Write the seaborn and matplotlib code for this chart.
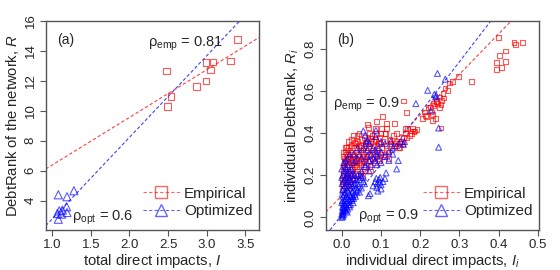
import numpy as np
import pandas as pd
import matplotlib
matplotlib.use("Agg")
import matplotlib.pyplot as plt
from matplotlib.lines import Line2D
import seaborn as sns

# ---------------- data ----------------
# panel (a): total direct impacts vs DebtRank of the network
emp_a_x = [2.48, 2.49, 2.54, 2.87, 2.99, 2.99, 3.05, 3.08, 3.31, 3.40]
emp_a_y = [12.64, 10.29, 10.96, 11.63, 13.22, 11.97, 12.71, 13.26, 13.33, 14.76]
opt_a_x = [1.078, 1.19, 1.28, 1.185, 1.065, 1.09, 1.13, 1.078, 1.19, 1.12]
opt_a_y = [4.40, 4.27, 4.67, 3.60, 3.15, 3.33, 3.38, 2.77, 3.22, 3.11]
# fitted lines: (intercept, slope)
fit_a_emp = (3.22, 3.17)
fit_a_opt = (-2.63, 5.43)

# panel (b): individual direct impacts vs individual DebtRank
emp_b = [
    (0.399, 0.854), (0.439, 0.830), (0.443, 0.822), (0.460, 0.830), (0.403, 0.768),
    (0.417, 0.790), (0.394, 0.735), (0.417, 0.740), (0.395, 0.702), (0.408, 0.713),
    (0.298, 0.668), (0.331, 0.644), (0.282, 0.643), (0.275, 0.638), (0.263, 0.614),
    (0.271, 0.603), (0.258, 0.587), (0.250, 0.571), (0.260, 0.567), (0.254, 0.556),
    (0.242, 0.551), (0.253, 0.535), (0.233, 0.540), (0.226, 0.524), (0.213, 0.483),
    (0.231, 0.490), (0.253, 0.424), (0.157, 0.552), (0.166, 0.498), (0.103, 0.479),
    (0.089, 0.457), (0.134, 0.444), (0.069, 0.425), (0.192, 0.419), (0.184, 0.408),
    (0.178, 0.400), (0.161, 0.421), (0.165, 0.381), (0.140, 0.397), (0.114, 0.421),
    (0.110, 0.397), (0.113, 0.444), (0.102, 0.421), (0.089, 0.397), (0.123, 0.365),
    (0.136, 0.349), (0.148, 0.333), (0.097, 0.349), (0.076, 0.373), (0.059, 0.349),
    (0.047, 0.333), (0.032, 0.357),
    (0.002, 0.16), (0.004, 0.20), (0.003, 0.24), (0.006, 0.28), (0.008, 0.31),
    (0.005, 0.22), (0.010, 0.18), (0.007, 0.26), (0.012, 0.30), (0.002, 0.13),
    (0.015, 0.32), (0.018, 0.28), (0.020, 0.24), (0.022, 0.20), (0.025, 0.34),
    (0.028, 0.30), (0.015, 0.22), (0.020, 0.17), (0.030, 0.26), (0.026, 0.22),
    (0.012, 0.25), (0.017, 0.36), (0.023, 0.31), (0.029, 0.19), (0.014, 0.19),
    (0.032, 0.33), (0.035, 0.28), (0.038, 0.24), (0.040, 0.36), (0.042, 0.30),
    (0.045, 0.26), (0.048, 0.21), (0.050, 0.34), (0.052, 0.29), (0.055, 0.24),
    (0.058, 0.38), (0.060, 0.31), (0.034, 0.21), (0.044, 0.40), (0.056, 0.27),
    (0.047, 0.32), (0.037, 0.31), (0.053, 0.20),
    (0.062, 0.26), (0.065, 0.35), (0.068, 0.30), (0.070, 0.40), (0.072, 0.24),
    (0.075, 0.32), (0.078, 0.28), (0.080, 0.36), (0.083, 0.26), (0.085, 0.42),
    (0.088, 0.31), (0.090, 0.34), (0.093, 0.28), (0.096, 0.38), (0.098, 0.30),
    (0.066, 0.44), (0.074, 0.22),
    (0.102, 0.33), (0.105, 0.36), (0.108, 0.29), (0.112, 0.40), (0.115, 0.34),
    (0.118, 0.31), (0.122, 0.37), (0.125, 0.35), (0.128, 0.32), (0.132, 0.39),
    (0.135, 0.34), (0.140, 0.36), (0.145, 0.33), (0.148, 0.35), (0.120, 0.28),
    (0.110, 0.30),
    (0.152, 0.36), (0.158, 0.38), (0.162, 0.40), (0.168, 0.42), (0.175, 0.41),
    (0.180, 0.42), (0.186, 0.41), (0.172, 0.39), (0.155, 0.35),
    (0.205, 0.47), (0.210, 0.50), (0.215, 0.48), (0.220, 0.52), (0.228, 0.50),
    (0.235, 0.53), (0.240, 0.55), (0.245, 0.54), (0.250, 0.52), (0.238, 0.47),
    (0.232, 0.46),
    (0.001, 0.18), (0.003, 0.29), (0.004, 0.15), (0.006, 0.19), (0.008, 0.23),
    (0.009, 0.27), (0.011, 0.21), (0.013, 0.33), (0.016, 0.26), (0.019, 0.21),
    (0.021, 0.29), (0.024, 0.25), (0.027, 0.18), (0.031, 0.29), (0.033, 0.24),
    (0.036, 0.35), (0.039, 0.27), (0.041, 0.22), (0.043, 0.34), (0.046, 0.29),
    (0.049, 0.25), (0.051, 0.37), (0.054, 0.32), (0.057, 0.22), (0.059, 0.28),
    (0.061, 0.34), (0.063, 0.29), (0.067, 0.38), (0.069, 0.33), (0.071, 0.27),
    (0.073, 0.36), (0.077, 0.39), (0.079, 0.31), (0.082, 0.34), (0.084, 0.29),
    (0.087, 0.37), (0.091, 0.31), (0.094, 0.35), (0.097, 0.27), (0.099, 0.40),
    (0.018, 0.33), (0.009, 0.33), (0.006, 0.24), (0.026, 0.27), (0.011, 0.14),
    (0.016, 0.15), (0.022, 0.16), (0.028, 0.23), (0.035, 0.25), (0.042, 0.27),
    (0.024, 0.37), (0.039, 0.39), (0.030, 0.39), (0.015, 0.29), (0.005, 0.31),
]
opt_b = [
    (0.219, 0.603), (0.244, 0.683), (0.264, 0.656), (0.236, 0.584), (0.239, 0.571),
    (0.241, 0.578), (0.189, 0.540), (0.227, 0.508), (0.247, 0.424), (0.247, 0.333),
    (0.144, 0.270), (0.140, 0.230), (0.113, 0.211), (0.087, 0.413), (0.086, 0.384),
    (0.066, 0.365), (0.157, 0.346), (0.068, 0.103), (0.089, 0.143), (0.097, 0.167),
    (0.080, 0.150), (0.085, 0.170), (0.090, 0.160), (0.095, 0.180), (0.100, 0.155),
    (0.105, 0.170), (0.110, 0.185), (0.100, 0.135), (0.092, 0.125), (0.098, 0.190),
    (0.088, 0.185), (0.072, 0.113),
    (0.055, 0.41), (0.060, 0.39), (0.070, 0.35), (0.080, 0.33), (0.090, 0.30),
    (0.100, 0.31), (0.120, 0.31), (0.130, 0.33), (0.140, 0.34), (0.150, 0.36),
    (0.160, 0.36),
    (0.040, 0.20), (0.050, 0.22), (0.060, 0.25), (0.070, 0.27), (0.045, 0.30),
    (0.055, 0.33), (0.065, 0.29), (0.075, 0.30), (0.030, 0.26), (0.020, 0.30),
    (0.085, 0.32), (0.095, 0.33), (0.100, 0.36), (0.110, 0.35), (0.125, 0.36),
    (0.062, 0.36), (0.060, 0.24), (0.070, 0.22), (0.075, 0.25), (0.085, 0.27),
    (0.090, 0.25), (0.100, 0.26), (0.110, 0.29), (0.120, 0.27), (0.130, 0.30),
    (0.000, 0.000), (0.001, 0.010), (0.002, 0.020), (0.003, 0.005), (0.004, 0.030),
    (0.005, 0.015), (0.006, 0.040), (0.002, 0.050), (0.008, 0.060), (0.010, 0.030),
    (0.012, 0.050), (0.004, 0.070), (0.007, 0.080), (0.010, 0.090), (0.013, 0.070),
    (0.015, 0.040), (0.003, 0.100), (0.006, 0.110), (0.009, 0.120), (0.012, 0.100),
    (0.016, 0.090), (0.018, 0.060), (0.020, 0.080), (0.002, 0.130), (0.005, 0.140),
    (0.008, 0.150), (0.011, 0.160), (0.014, 0.130), (0.017, 0.120), (0.020, 0.110),
    (0.023, 0.100), (0.025, 0.080), (0.004, 0.170), (0.007, 0.180), (0.010, 0.190),
    (0.013, 0.200), (0.016, 0.170), (0.019, 0.150), (0.022, 0.140), (0.026, 0.120),
    (0.028, 0.100), (0.030, 0.090), (0.003, 0.200), (0.006, 0.220), (0.009, 0.240),
    (0.012, 0.230), (0.015, 0.210), (0.018, 0.190), (0.021, 0.180), (0.024, 0.170),
    (0.027, 0.150), (0.030, 0.130), (0.033, 0.110), (0.035, 0.100), (0.020, 0.220),
    (0.025, 0.200), (0.030, 0.180), (0.032, 0.160), (0.036, 0.140), (0.038, 0.120),
    (0.001, 0.030), (0.000, 0.015), (0.002, 0.080), (0.005, 0.060), (0.001, 0.110),
    (0.009, 0.035), (0.014, 0.025), (0.003, 0.045), (0.040, 0.160), (0.045, 0.180),
    (0.050, 0.190), (0.043, 0.150), (0.055, 0.170),
    (0.035, 0.160), (0.040, 0.130), (0.045, 0.120), (0.050, 0.140), (0.048, 0.200),
    (0.055, 0.190), (0.058, 0.160), (0.025, 0.230), (0.028, 0.210), (0.033, 0.200),
    (0.038, 0.180), (0.015, 0.250), (0.010, 0.270), (0.005, 0.260), (0.000, 0.230),
    (0.000, 0.190), (0.000, 0.070), (0.001, 0.160), (0.020, 0.050), (0.022, 0.060),
    (0.026, 0.090), (0.029, 0.070),
    (0.030, 0.300), (0.040, 0.330), (0.050, 0.280), (0.065, 0.320), (0.080, 0.280),
    (0.090, 0.290), (0.035, 0.270), (0.015, 0.280),
]
fit_b_emp = (0.103, 1.92)
fit_b_opt = (0.0126, 2.42)

labels = ["Empirical", "Optimized"]
ann_a = ["ρ$_{\\mathrm{emp}}$ = 0.81", "ρ$_{\\mathrm{opt}}$ = 0.6"]
ann_b = ["ρ$_{\\mathrm{emp}}$ = 0.9", "ρ$_{\\mathrm{opt}}$ = 0.9"]

# ---------------- style ----------------
sns.set_style("ticks")
plt.rcParams["font.family"] = ["Liberation Sans", "DejaVu Sans"]
plt.rcParams["mathtext.fontset"] = "custom"
plt.rcParams["mathtext.rm"] = "Liberation Sans"
plt.rcParams["mathtext.it"] = "Liberation Sans:italic"
plt.rcParams["mathtext.bf"] = "Liberation Sans:bold"

RED = "#ff0000"
BLUE = "#0000ff"
FRAME = "#555555"

fig = plt.figure(figsize=(5.6, 2.7), dpi=100)
axA = fig.add_axes([0.0816, 0.148, 0.381, 0.775])
axB = fig.add_axes([0.5816, 0.148, 0.381, 0.775])

df_a_emp = pd.DataFrame({"x": emp_a_x, "y": emp_a_y})
df_a_opt = pd.DataFrame({"x": opt_a_x, "y": opt_a_y})
df_b_emp = pd.DataFrame(emp_b, columns=["x", "y"])
df_b_opt = pd.DataFrame(opt_b, columns=["x", "y"])


def draw(ax, de, do, fe, fo, s_sq, s_tri):
    ax.axline((0, fe[0]), slope=fe[1], color=RED, lw=0.8, ls=(0, (3, 2)), alpha=0.75, zorder=1)
    ax.axline((0, fo[0]), slope=fo[1], color=BLUE, lw=0.8, ls=(0, (3, 2)), alpha=0.75, zorder=1)
    sns.scatterplot(data=de, x="x", y="y", ax=ax, marker="s", s=s_sq,
                    facecolor="none", edgecolor=RED, linewidth=0.8, alpha=0.65, zorder=3)
    sns.scatterplot(data=do, x="x", y="y", ax=ax, marker="^", s=s_tri,
                    facecolor="none", edgecolor=BLUE, linewidth=0.8, alpha=0.65, zorder=3)
    for sp in ax.spines.values():
        sp.set_visible(True)
        sp.set_color(FRAME)
        sp.set_linewidth(1.0)
    ax.tick_params(axis="both", direction="out", length=4, width=0.8, color=FRAME,
                   labelsize=9.5, pad=2.5)
    handles = [
        Line2D([0], [0], color=RED, ls=(0, (3, 2)), lw=0.8, marker="s", ms=8,
               mfc="none", mec=RED, alpha=0.6),
        Line2D([0], [0], color=BLUE, ls=(0, (3, 2)), lw=0.8, marker="^", ms=9,
               mfc="none", mec=BLUE, alpha=0.6),
    ]
    ax.legend(handles, labels, loc="lower left", bbox_to_anchor=(0.456, 0.057),
              frameon=False, fontsize=11, handlelength=2.4, handletextpad=0.3,
              labelspacing=0.22, borderpad=0, borderaxespad=0, numpoints=1)


draw(axA, df_a_emp, df_a_opt, fit_a_emp, fit_a_opt, 22, 34)
axA.set_xlim(0.914, 3.68)
axA.set_ylim(2.05, 16.0)
axA.set_xticks([1.0, 1.5, 2.0, 2.5, 3.0, 3.5])
axA.set_xticklabels(["1.0", "1.5", "2.0", "2.5", "3.0", "3.5"])
axA.set_yticks([4, 6, 8, 10, 12, 14, 16])
axA.set_yticklabels(["4", "6", "8", "10", "12", "14", "16"], rotation=90, va="center")
axA.set_xlabel("total direct impacts, $I$", fontsize=10.7, labelpad=0.5)
axA.set_ylabel("DebtRank of the network, $R$", fontsize=10.6, labelpad=3)
axA.text(0.053, 0.908, "(a)", transform=axA.transAxes, fontsize=10, ha="left", va="center")
axA.text(0.481, 0.889, ann_a[0], transform=axA.transAxes, fontsize=10.5, ha="left", va="center")
axA.text(0.123, 0.06, ann_a[1], transform=axA.transAxes, fontsize=10.5, ha="left", va="center")

draw(axB, df_b_emp, df_b_opt, fit_b_emp, fit_b_opt, 12, 18)
axB.set_xlim(-0.041, 0.503)
axB.set_ylim(-0.06, 0.933)
axB.set_xticks([0.0, 0.1, 0.2, 0.3, 0.4, 0.5])
axB.set_xticklabels(["0.0", "0.1", "0.2", "0.3", "0.4", "0.5"])
axB.set_yticks([0.0, 0.2, 0.4, 0.6, 0.8])
axB.set_yticklabels(["0.0", "0.2", "0.4", "0.6", "0.8"], rotation=90, va="center")
axB.set_xlabel("individual direct impacts, $I_i$", fontsize=10.7, labelpad=0.5)
axB.set_ylabel("individual DebtRank, $R_i$", fontsize=10.6, labelpad=3)
axB.text(0.053, 0.908, "(b)", transform=axB.transAxes, fontsize=10, ha="left", va="center")
axB.text(0.036, 0.598, ann_b[0], transform=axB.transAxes, fontsize=10.5, ha="left", va="center")
axB.text(0.151, 0.064, ann_b[1], transform=axB.transAxes, fontsize=10.5, ha="left", va="center")

fig.savefig("out.png", dpi=100)
